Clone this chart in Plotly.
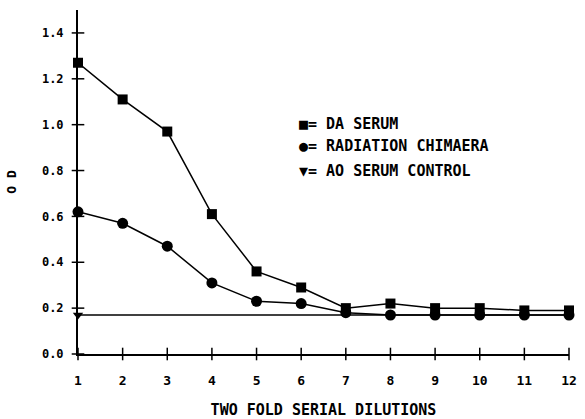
import plotly.graph_objects as go

dilutions = list(range(1, 13))
da_serum = [1.27, 1.11, 0.97, 0.61, 0.36, 0.29, 0.20, 0.22, 0.20, 0.20, 0.19, 0.19]
radiation_chimaera = [0.62, 0.57, 0.47, 0.31, 0.23, 0.22, 0.18, 0.17, 0.17, 0.17, 0.17, 0.17]
ao_control = [0.17] * 12
y_ticks = [0.0, 0.2, 0.4, 0.6, 0.8, 1.0, 1.2, 1.4]
y_tick_text = ["<b>0.0</b>", "<b>0.2</b>", "<b>0.4</b>", "<b>0.6</b>", "<b>0.8</b>",
               "<b>1.0</b>", "<b>1.2</b>", "<b>1.4</b>"]
x_tick_text = ["<b>%d</b>" % d for d in dilutions]
legend_labels = ["<b>■= DA SERUM</b>", "<b>●= RADIATION CHIMAERA</b>", "<b>▼= AO SERUM CONTROL</b>"]
legend_y = [1.005, 0.905, 0.80]

FONT = "DejaVu Sans Mono"
fig = go.Figure()

fig.add_trace(go.Scatter(x=dilutions, y=ao_control, mode="lines",
                         line=dict(color="black", width=1.6), cliponaxis=False))
fig.add_trace(go.Scatter(x=dilutions[:1], y=ao_control[:1], mode="markers",
                         marker=dict(symbol="triangle-down", size=9, color="black"),
                         cliponaxis=False))
fig.add_trace(go.Scatter(x=dilutions, y=radiation_chimaera, mode="lines+markers",
                         line=dict(color="black", width=1.5),
                         marker=dict(symbol="circle", size=11, color="black"),
                         cliponaxis=False))
fig.add_trace(go.Scatter(x=dilutions, y=da_serum, mode="lines+markers",
                         line=dict(color="black", width=1.5),
                         marker=dict(symbol="square", size=10, color="black"),
                         cliponaxis=False))
fig.add_trace(go.Scatter(x=[1] * len(y_ticks), y=y_ticks, mode="markers",
                         marker=dict(symbol="line-ew", size=9,
                                     line=dict(color="black", width=1.5)),
                         cliponaxis=False))
fig.add_trace(go.Scatter(x=dilutions, y=[0] * 12, mode="markers",
                         marker=dict(symbol="line-ns", size=9,
                                     line=dict(color="black", width=1.5)),
                         cliponaxis=False))

for txt, yy in zip(legend_labels, legend_y):
    fig.add_annotation(x=5.9, y=yy, xref="x", yref="y", text=txt, showarrow=False,
                       xanchor="left", yanchor="middle",
                       font=dict(family=FONT, size=15, color="black"))

fig.update_layout(
    width=585, height=419,
    margin=dict(l=78, r=16, t=10, b=65),
    paper_bgcolor="white", plot_bgcolor="white",
    showlegend=False,
    font=dict(family=FONT, size=12, color="black"),
)
fig.update_xaxes(range=[1, 12], tickvals=dilutions, ticktext=x_tick_text, ticks="",
                 showgrid=False, zeroline=False, showline=True, linecolor="black",
                 linewidth=2, tickfont=dict(family=FONT, size=13, color="black"),
                 ticklabelstandoff=13, automargin=False,
                 title=dict(text="<b>TWO FOLD SERIAL DILUTIONS</b>", standoff=19,
                            font=dict(family=FONT, size=15)))
fig.update_yaxes(range=[0, 1.5], tickvals=y_ticks, ticktext=y_tick_text, ticks="",
                 showgrid=False, zeroline=False, showline=True, linecolor="black",
                 linewidth=2, tickfont=dict(family=FONT, size=12, color="black"),
                 ticklabelstandoff=10, automargin=False,
                 title=dict(text="<b>O D</b>", standoff=22, font=dict(family=FONT, size=13)))

fig.write_html("out.html")
